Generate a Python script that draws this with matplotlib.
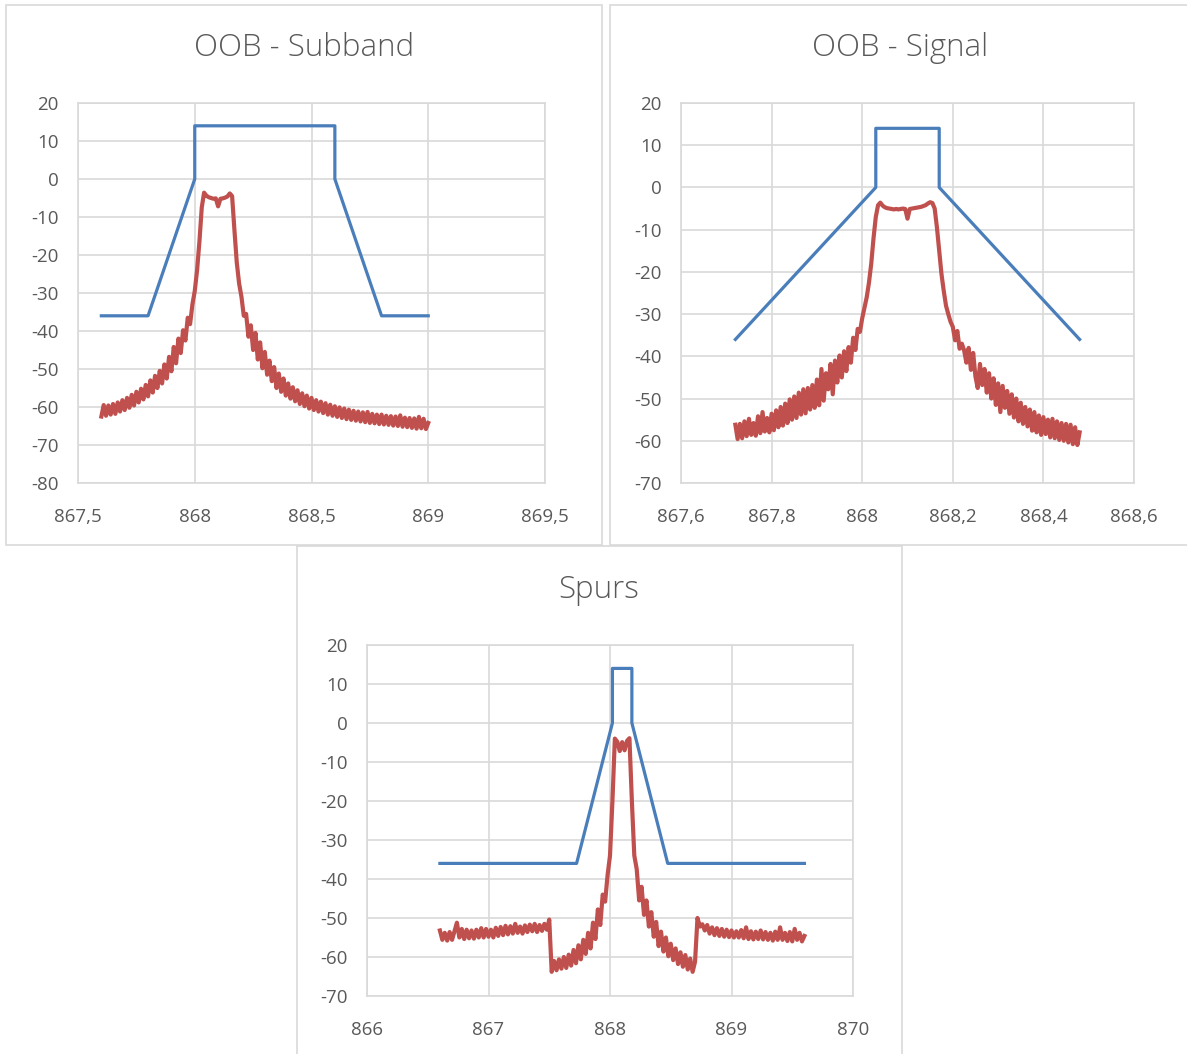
#!/usr/bin/env python3
"""
Spectrum mask plots: OOB subband, OOB signal and spurs.
Blue = emission mask, red = measured spectrum (dBm).
"""
import matplotlib
matplotlib.use("Agg")
import matplotlib.pyplot as plt
import numpy as np
from matplotlib.patches import Rectangle
from matplotlib.ticker import FuncFormatter

# --- Global Style Settings ---
plt.rcParams['font.family'] = ['Open Sans', 'DejaVu Sans']

MASK_COLOR = '#4a7ebb'
TRACE_COLOR = '#c0504d'
GRID_COLOR = '#d9d9d9'
TEXT_COLOR = '#595959'

# --- Data ---
# OOB - Subband
SUBBAND_MASK_F = [867.6, 867.8, 868.0, 868.0, 868.6, 868.6, 868.8, 869.0]
SUBBAND_MASK_DB = [-36, -36, 0, 14, 14, 0, -36, -36]
SUBBAND_SWEEP = (867.60, 869.00)
SUBBAND_TRACE_DB = [
    -62.5, -59.5, -62.3, -59.6, -62.0, -59.2, -61.8, -58.8, -61.2, -58.2,
    -60.8, -57.6, -60.2, -56.8, -59.6, -56.0, -58.8, -55.2, -58.0, -54.2,
    -57.2, -53.0, -56.2, -51.8, -55.0, -50.5, -53.8, -48.8, -52.5, -46.8,
    -50.6, -44.2, -48.5, -42.0, -45.8, -39.8, -42.5, -36.5, -38.2, -33.0,
    -29.5, -24.0, -16.5, -7.5, -3.6, -4.4, -4.8, -5.0, -5.2, -5.1,
    -7.2, -5.2, -5.1, -4.9, -4.6, -3.8, -4.5, -13.5, -22.0, -27.5,
    -31.0, -36.0, -35.5, -41.5, -38.5, -45.0, -40.5, -47.5, -43.0, -49.8,
    -45.5, -51.5, -47.8, -53.2, -49.5, -55.0, -51.2, -56.0, -52.5, -57.0,
    -53.8, -57.8, -54.8, -58.5, -55.6, -59.2, -56.4, -59.8, -57.0, -60.4,
    -57.6, -60.8, -58.2, -61.2, -58.6, -61.6, -59.0, -62.0, -59.4, -62.3,
    -59.8, -62.6, -60.1, -62.9, -60.4, -63.2, -60.7, -63.4, -61.0, -63.6,
    -61.2, -63.8, -61.4, -64.0, -61.3, -64.2, -61.8, -64.3, -62.0, -64.5,
    -62.0, -64.6, -62.3, -64.7, -62.4, -64.9, -62.5, -65.0, -62.2, -65.2,
    -62.8, -65.3, -62.9, -65.5, -63.0, -65.7, -62.6, -65.6, -63.1, -65.8,
    -64.2,
]
SUBBAND_XTICKS = [867.5, 868.0, 868.5, 869.0, 869.5]
SUBBAND_YTICKS = [20, 10, 0, -10, -20, -30, -40, -50, -60, -70, -80]

# OOB - Signal
SIGNAL_MASK_F = [867.72, 868.03, 868.03, 868.17, 868.17, 868.48]
SIGNAL_MASK_DB = [-36, 0, 14, 14, 0, -36]
SIGNAL_SWEEP = (867.72, 868.48)
SIGNAL_TRACE_DB = [
    -56.2, -59.6, -56.0, -59.4, -55.4, -58.9, -54.8, -58.6, -55.8, -58.8,
    -54.2, -58.2, -53.2, -57.8, -54.6, -58.0, -53.6, -57.5, -52.8, -56.8,
    -52.0, -56.4, -51.2, -55.8, -50.2, -55.0, -49.5, -54.6, -48.6, -53.8,
    -47.8, -53.5, -47.5, -52.6, -46.8, -52.2, -45.5, -51.6, -43.0, -50.5,
    -44.0, -47.8, -41.8, -49.0, -41.0, -46.2, -39.8, -45.0, -38.8, -43.5,
    -37.8, -41.5, -35.6, -38.5, -33.5, -34.2, -31.0, -28.5, -26.0, -22.5,
    -18.0, -12.0, -7.0, -4.2, -3.6, -4.3, -4.7, -4.9, -5.0, -5.1,
    -5.2, -5.1, -5.2, -5.1, -5.0, -5.1, -7.4, -5.1, -5.0, -4.9,
    -4.8, -4.7, -4.6, -4.4, -4.2, -3.8, -3.5, -3.7, -5.0, -9.5,
    -15.0, -20.5, -24.5, -28.0, -30.0, -31.8, -33.0, -36.2, -34.0, -38.2,
    -37.0, -38.6, -41.5, -38.0, -43.2, -39.2, -44.8, -47.5, -41.8, -46.8,
    -43.0, -48.6, -44.0, -50.0, -45.2, -51.5, -46.4, -53.2, -47.0, -52.2,
    -48.2, -53.6, -49.0, -54.5, -50.0, -55.4, -51.0, -56.0, -52.0, -56.6,
    -52.6, -57.6, -53.2, -58.0, -54.0, -58.6, -54.4, -58.4, -55.0, -59.2,
    -54.8, -59.4, -55.4, -59.8, -55.8, -60.0, -56.0, -60.4, -56.2, -60.8,
    -56.8, -61.0, -58.0,
]
SIGNAL_XTICKS = [867.6, 867.8, 868.0, 868.2, 868.4, 868.6]
SIGNAL_YTICKS = [20, 10, 0, -10, -20, -30, -40, -50, -60, -70]

# Spurs
SPURS_MASK_F = [866.6, 867.725, 868.02, 868.02, 868.18, 868.18, 868.475, 869.6]
SPURS_MASK_DB = [-36, -36, 0, 14, 14, 0, -36, -36]
SPURS_SWEEP = (866.60, 869.60)
SPURS_TRACE_DB = [
    -53.2, -55.6, -53.8, -55.8, -53.6, -55.6, -53.4, -51.2, -55.0, -52.8,
    -55.4, -53.0, -55.2, -53.2, -55.3, -53.0, -55.0, -52.6, -55.0, -52.8,
    -54.8, -53.0, -55.0, -52.5, -54.6, -52.3, -54.4, -52.0, -54.2, -52.1,
    -54.0, -51.5, -53.8, -52.2, -54.0, -51.9, -53.6, -51.7, -53.4, -51.5,
    -53.6, -51.8, -53.3, -51.5, -53.0, -50.4, -63.8, -61.0, -63.4, -60.6,
    -63.0, -60.0, -62.8, -59.4, -62.2, -58.2, -61.6, -57.0, -60.6, -55.6,
    -59.2, -53.8, -57.8, -51.2, -55.4, -47.8, -51.8, -44.0, -45.8, -39.0,
    -34.0, -20.0, -4.0, -4.8, -7.2, -4.9, -7.0, -4.6, -3.9, -20.0,
    -34.0, -37.5, -45.5, -42.0, -49.2, -45.5, -52.2, -48.5, -54.8, -51.0,
    -57.2, -53.5, -58.6, -55.0, -59.8, -56.6, -60.8, -57.8, -61.8, -58.8,
    -62.5, -59.5, -63.2, -60.4, -63.8, -61.2, -50.0, -52.2, -51.6, -53.2,
    -51.8, -54.0, -52.4, -54.4, -52.6, -54.6, -52.8, -54.8, -53.0, -54.9,
    -53.2, -55.0, -53.4, -55.0, -53.1, -55.2, -52.4, -55.4, -53.4, -55.5,
    -53.5, -55.4, -53.2, -55.5, -53.6, -55.6, -53.8, -55.8, -53.5, -55.6,
    -52.4, -55.6, -53.8, -55.9, -53.6, -56.0, -52.8, -55.6, -53.8, -56.0,
    -54.6,
]
SPURS_XTICKS = [866, 867, 868, 869, 870]
SPURS_YTICKS = [20, 10, 0, -10, -20, -30, -40, -50, -60, -70]

FIG_W, FIG_H = 1187, 1054


def px_rect(left, top, right, bottom):
    """Pixel box (from top-left) -> figure fraction [l, b, w, h]."""
    return [left / FIG_W, 1 - bottom / FIG_H,
            (right - left) / FIG_W, (bottom - top) / FIG_H]


def comma_fmt(v, _pos):
    s = f"{v:g}"
    return s.replace('.', ',')


def draw_chart(fig, box, ax_box, title, title_xy, mask_f, mask_db,
               sweep, trace_db, xticks, yticks):
    # chart frame
    l, b, w, h = px_rect(*box)
    fig.patches.append(Rectangle((l, b), w, h, transform=fig.transFigure,
                                 fill=False, edgecolor=GRID_COLOR,
                                 linewidth=1.2))
    fig.text(title_xy[0] / FIG_W, 1 - title_xy[1] / FIG_H, title,
             ha='center', va='center', fontsize=22.5, fontweight='light',
             color=TEXT_COLOR)

    ax = fig.add_axes(px_rect(*ax_box))
    freqs = np.linspace(sweep[0], sweep[1], len(trace_db))
    ax.plot(mask_f, mask_db, color=MASK_COLOR, linewidth=2.3,
            solid_joinstyle='round', zorder=3)
    ax.plot(freqs, trace_db, color=TRACE_COLOR, linewidth=3.0,
            solid_joinstyle='round', zorder=4)

    ax.set_xlim(xticks[0], xticks[-1])
    ax.set_ylim(min(yticks), max(yticks))
    ax.set_xticks(xticks)
    ax.set_yticks(yticks)
    ax.xaxis.set_major_formatter(FuncFormatter(comma_fmt))
    ax.yaxis.set_major_formatter(FuncFormatter(comma_fmt))
    ax.tick_params(length=0, labelsize=13.5, labelcolor=TEXT_COLOR)
    ax.tick_params(axis='y', pad=14)
    ax.tick_params(axis='x', pad=18)
    ax.grid(True, color=GRID_COLOR, linewidth=1.2, zorder=0)
    ax.set_axisbelow(True)
    for sp in ax.spines.values():
        sp.set_color(GRID_COLOR)
        sp.set_linewidth(1.2)
    return ax


def main():
    fig = plt.figure(figsize=(FIG_W / 100, FIG_H / 100), dpi=100)
    fig.patch.set_facecolor('white')

    draw_chart(fig, (6, 4.5, 602, 545), (78, 103, 545, 483),
               'OOB - Subband', (304, 48),
               SUBBAND_MASK_F, SUBBAND_MASK_DB, SUBBAND_SWEEP,
               SUBBAND_TRACE_DB, SUBBAND_XTICKS, SUBBAND_YTICKS)
    draw_chart(fig, (610, 4.5, 1195, 545), (681, 103, 1134, 483),
               'OOB - Signal', (900, 48),
               SIGNAL_MASK_F, SIGNAL_MASK_DB, SIGNAL_SWEEP,
               SIGNAL_TRACE_DB, SIGNAL_XTICKS, SIGNAL_YTICKS)
    draw_chart(fig, (297, 546, 902, 1060), (367, 645, 853, 996),
               'Spurs', (599, 590),
               SPURS_MASK_F, SPURS_MASK_DB, SPURS_SWEEP,
               SPURS_TRACE_DB, SPURS_XTICKS, SPURS_YTICKS)

    fig.savefig('out.png', dpi=100)
    plt.close(fig)


if __name__ == "__main__":
    main()
